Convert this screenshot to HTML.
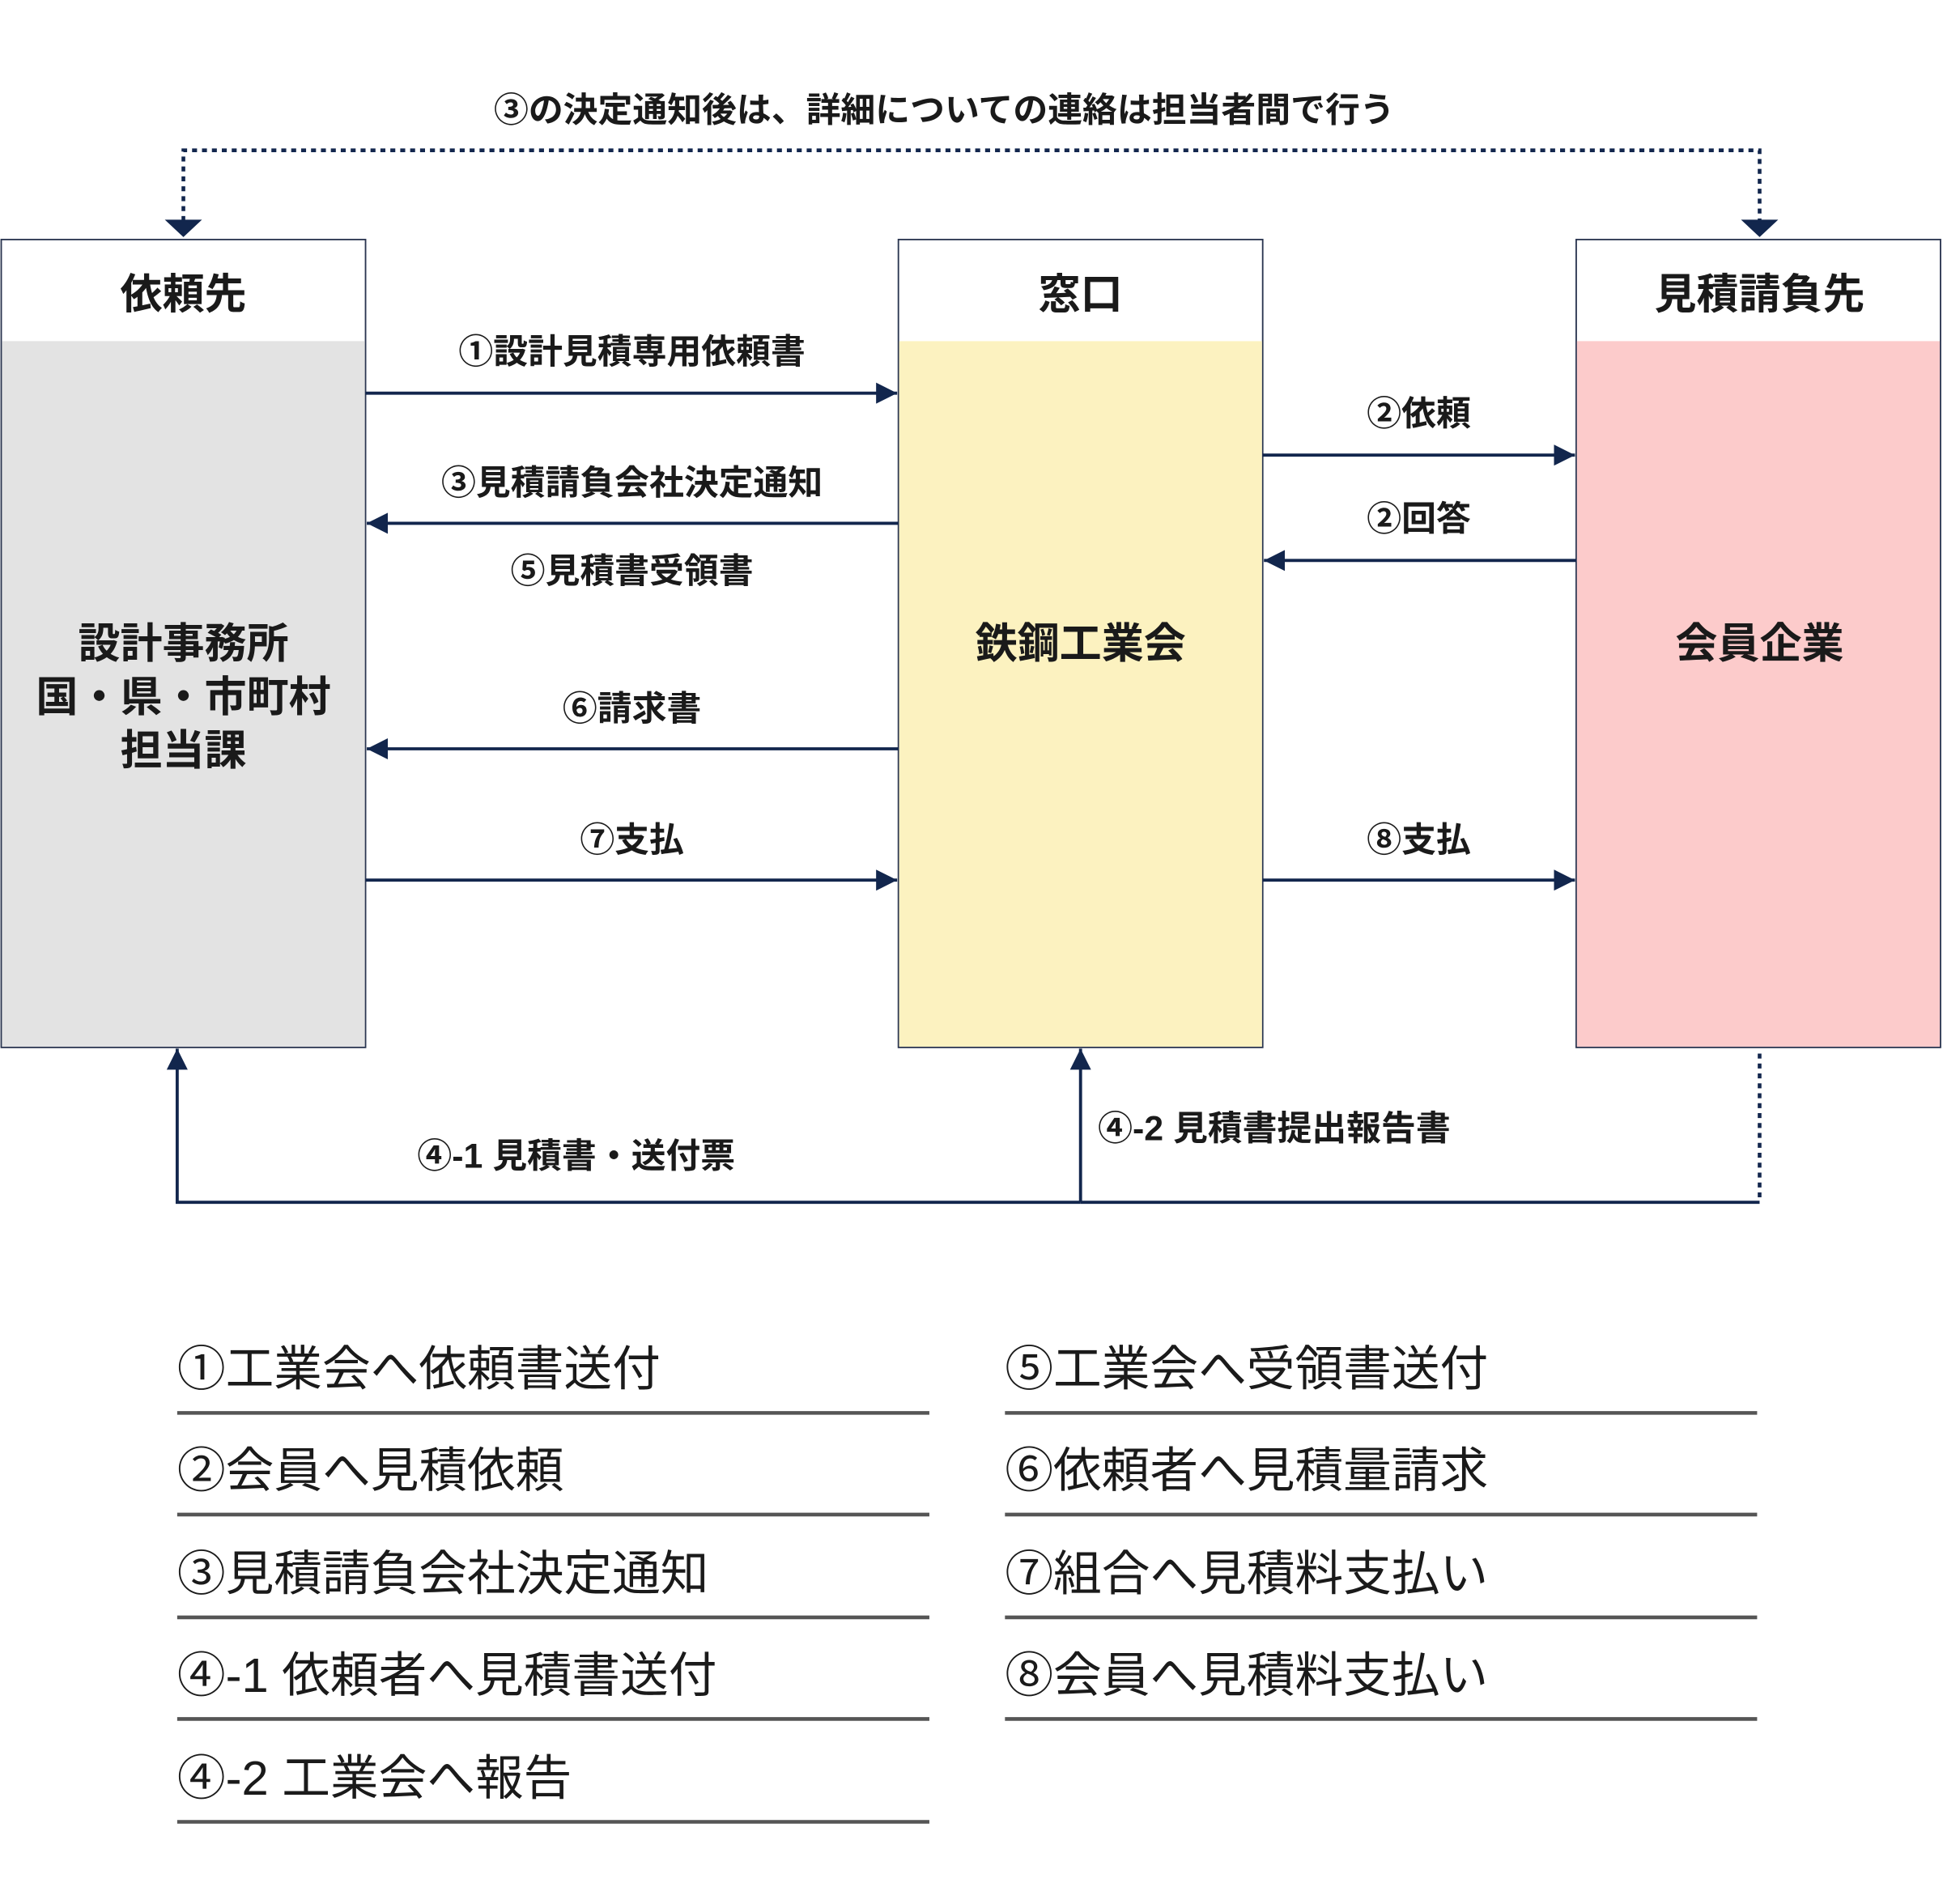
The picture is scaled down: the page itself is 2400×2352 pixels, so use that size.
<!DOCTYPE html>
<html><head><meta charset="utf-8"><style>
html,body{margin:0;padding:0;background:#fff;}
svg{display:block;}
text{font-family:"Liberation Sans","Noto Sans CJK JP",sans-serif;fill:#1a1a1a;}
.b{font-weight:700;}
.lg{font-size:39px;fill:#333;}
</style></head><body>
<svg width="2400" height="2352" viewBox="0 0 1568 1536" xmlns="http://www.w3.org/2000/svg">
<defs>
<marker id="ah" viewBox="0 0 10 10" refX="10" refY="5" markerWidth="17" markerHeight="17" markerUnits="userSpaceOnUse" orient="auto"><path d="M0,0 L10,5 L0,10 z" fill="#12264d"/></marker>
</defs>
<text x="762" y="98" text-anchor="middle" class="b" font-size="28">③の決定通知後は、詳細についての連絡は担当者間で行う</text>
<polyline points="148,178 148,121 1420,121 1420,178" fill="none" stroke="#12264d" stroke-width="3" stroke-dasharray="4,4"/>
<path d="M133,177 L163,177 L148,191 z" fill="#12264d"/>
<path d="M1405,177 L1435,177 L1420,191 z" fill="#12264d"/>
<rect x="1" y="193" width="294" height="652" fill="#fff" stroke="#2a3550" stroke-width="1.2"/>
<rect x="1.6" y="275" width="292.8" height="569.4" fill="#e3e3e3"/>
<rect x="725" y="193" width="294" height="652" fill="#fff" stroke="#2a3550" stroke-width="1.2"/>
<rect x="725.6" y="275" width="292.8" height="569.4" fill="#fcf2c0"/>
<rect x="1272" y="193" width="294" height="652" fill="#fff" stroke="#2a3550" stroke-width="1.2"/>
<rect x="1272.6" y="275" width="292.8" height="569.4" fill="#fccbcb"/>
<g class="b" font-size="34" text-anchor="middle">
<text x="148" y="249">依頼先</text>
<text x="872" y="249">窓口</text>
<text x="1420" y="249">見積請負先</text>
<text x="148" y="531">設計事務所</text>
<text x="148" y="574">国・県・市町村</text>
<text x="148" y="617">担当課</text>
<text x="872" y="531">鉄鋼工業会</text>
<text x="1420" y="531">会員企業</text>
</g>
<g stroke="#12264d" stroke-width="2.5" fill="none" marker-end="url(#ah)">
<line x1="295" y1="317" x2="724" y2="317"/>
<line x1="725" y1="422" x2="296" y2="422"/>
<line x1="725" y1="604" x2="296" y2="604"/>
<line x1="295" y1="710" x2="724" y2="710"/>
<line x1="1019" y1="367" x2="1271" y2="367"/>
<line x1="1272" y1="452" x2="1020" y2="452"/>
<line x1="1019" y1="710" x2="1271" y2="710"/>
<polyline points="872,970 143,970 143,846"/>
<line x1="872" y1="970" x2="872" y2="846"/>
</g>
<line x1="872" y1="970" x2="1420" y2="970" stroke="#12264d" stroke-width="2.5"/>
<line x1="1420" y1="850" x2="1420" y2="970" stroke="#12264d" stroke-width="3" stroke-dasharray="4,4"/>
<g class="b" font-size="28" text-anchor="middle">
<text x="510" y="293">①設計見積専用依頼書</text>
<text x="510" y="399">③見積請負会社決定通知</text>
<text x="510" y="470">⑤見積書受領書</text>
<text x="510" y="581">⑥請求書</text>
<text x="510" y="687">⑦支払</text>
<text x="1145" y="343">②依頼</text>
<text x="1145" y="428">②回答</text>
<text x="1145" y="687">⑧支払</text>
<text x="465" y="942">④-1 見積書・送付票</text>
<text x="886" y="920" text-anchor="start">④-2 見積書提出報告書</text>
</g>
<g class="lg">
<text x="143" y="1118">①工業会へ依頼書送付</text>
<text x="143" y="1200">②会員へ見積依頼</text>
<text x="143" y="1283">③見積請負会社決定通知</text>
<text x="143" y="1365">④-1 依頼者へ見積書送付</text>
<text x="143" y="1448">④-2 工業会へ報告</text>
<text x="811" y="1118">⑤工業会へ受領書送付</text>
<text x="811" y="1200">⑥依頼者へ見積量請求</text>
<text x="811" y="1283">⑦組合へ見積料支払い</text>
<text x="811" y="1365">⑧会員へ見積料支払い</text>
</g>
<g stroke="#555" stroke-width="3">
<line x1="143" y1="1140" x2="750" y2="1140"/>
<line x1="143" y1="1222" x2="750" y2="1222"/>
<line x1="143" y1="1305" x2="750" y2="1305"/>
<line x1="143" y1="1387" x2="750" y2="1387"/>
<line x1="143" y1="1470" x2="750" y2="1470"/>
<line x1="811" y1="1140" x2="1418" y2="1140"/>
<line x1="811" y1="1222" x2="1418" y2="1222"/>
<line x1="811" y1="1305" x2="1418" y2="1305"/>
<line x1="811" y1="1387" x2="1418" y2="1387"/>
</g>
</svg>
</body></html>
